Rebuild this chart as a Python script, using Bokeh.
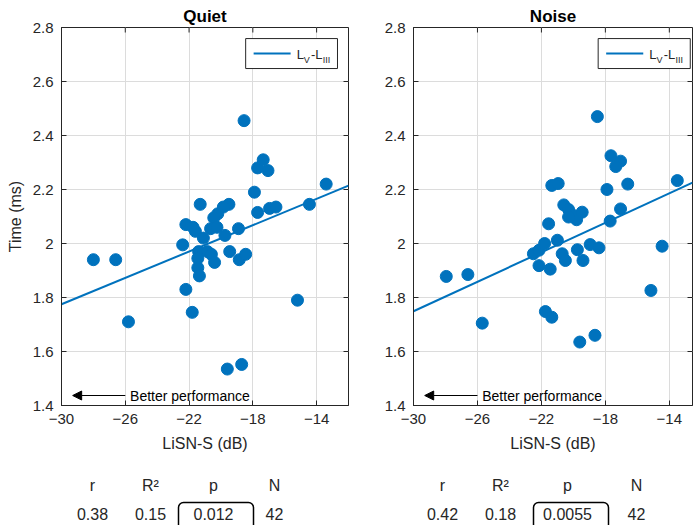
import numpy as np
from bokeh.plotting import figure
from bokeh.models import (Range1d, FixedTicker, BoxAnnotation, Arrow,
                          NormalHead, CustomJSTickFormatter)
from bokeh.layouts import column, row
from bokeh.core.properties import value
from bokeh.embed import file_html
from bokeh.resources import INLINE

# ---------------- data ----------------
quiet_x = [-28.0, -26.6, -25.8, -21.8, -19.6, -18.7, -15.2, -18.55, -17.7, -17.35,
           -17.05, -17.9, -13.4, -14.45, -17.7, -16.95, -16.55, -19.5, -19.85, -20.2,
           -20.45, -21.3, -22.2, -21.75, -21.6, -21.1, -20.65, -20.25, -18.9, -19.75,
           -22.4, -21.4, -20.85, -20.6, -21.45, -20.4, -21.45, -21.35, -19.45, -18.85,
           -18.45, -22.2]
quiet_y = [1.94, 1.94, 1.71, 1.745, 1.535, 1.552, 1.79, 2.455, 2.28, 2.31,
           2.27, 2.19, 2.22, 2.145, 2.115, 2.13, 2.135, 2.145, 2.135, 2.11,
           2.095, 2.145, 2.07, 2.06, 2.045, 2.02, 2.055, 2.06, 2.055, 2.03,
           1.995, 1.97, 1.97, 1.96, 1.945, 1.93, 1.91, 1.88, 1.97, 1.94,
           1.96, 1.83]

noise_x = [-27.95, -26.6, -25.7, -21.75, -21.35, -19.6, -18.65, -15.15, -14.45, -13.5,
           -18.5, -17.65, -17.05, -17.35, -17.9, -16.6, -21.35, -20.95, -17.05, -17.7,
           -21.55, -20.6, -20.3, -20.0, -19.8, -19.45, -20.3, -22.5, -22.15, -21.8,
           -21.0, -22.15, -21.45, -20.7, -20.5, -19.75, -19.4, -18.95, -18.4]
noise_y = [1.878, 1.885, 1.705, 1.748, 1.727, 1.635, 1.66, 1.826, 1.99, 2.233,
           2.47, 2.325, 2.305, 2.285, 2.2, 2.22, 2.215, 2.222, 2.128, 2.083,
           2.073, 2.143, 2.126, 2.104, 2.088, 2.116, 2.098, 1.962, 1.975, 2.0,
           2.012, 1.918, 1.905, 1.962, 1.937, 1.977, 1.937, 1.996, 1.984]

# regression line (intercept at x = -30, slope per dB)
quiet_fit = (1.775, 0.0244)
noise_fit = (1.749, 0.0273)

x_ticks = [-30, -26, -22, -18, -14]
y_ticks = [1.4, 1.6, 1.8, 2.0, 2.2, 2.4, 2.6, 2.8]

stat_headers = ["r", "R\u00b2", "p", "N"]
quiet_stats = ["0.38", "0.15", "0.012", "42"]
noise_stats = ["0.42", "0.18", "0.0055", "42"]

BLUE = "#0072BD"
AX = "#262626"
FONT = "Liberation Sans"
HEIGHT = 460
BT, BB = 27, 55


def style_axis(ax):
    ax.axis_line_color = AX
    ax.major_tick_line_color = AX
    ax.major_tick_in = 5
    ax.major_tick_out = 0
    ax.minor_tick_line_color = None
    ax.major_label_text_color = AX
    ax.major_label_text_font = FONT
    ax.major_label_text_font_size = "15px"
    ax.major_label_standoff = 8
    ax.axis_label_text_font = FONT
    ax.axis_label_text_font_style = "normal"
    ax.axis_label_text_font_size = "16px"
    ax.axis_label_text_color = AX


def make_panel(title, xs, ys, fit, width, bl, br, xmax, ylabel):
    p = figure(width=width, height=HEIGHT, x_range=Range1d(-30, xmax), y_range=Range1d(1.4, 2.8),
               toolbar_location=None, output_backend="svg",
               min_border_left=bl, min_border_right=br, min_border_top=BT, min_border_bottom=BB)
    p.title.text = title
    p.title.align = "center"
    p.title.text_font = FONT
    p.title.text_font_size = "17px"
    p.title.text_font_style = "bold"
    p.title.text_color = "black"
    p.title.standoff = 4
    p.outline_line_color = AX
    p.outline_line_alpha = 1
    p.background_fill_color = "white"
    p.border_fill_color = "white"

    xt = FixedTicker(ticks=x_ticks)
    yt = FixedTicker(ticks=y_ticks)
    p.xaxis.ticker = xt
    p.yaxis.ticker = yt
    p.yaxis.formatter = CustomJSTickFormatter(code="return String(Math.round(tick*10)/10)")
    style_axis(p.xaxis[0])
    style_axis(p.yaxis[0])
    p.xaxis[0].axis_label = "LiSN-S (dB)"
    p.xaxis[0].axis_label_standoff = 8
    if ylabel:
        p.yaxis[0].axis_label = ylabel
        p.yaxis[0].axis_label_standoff = 6

    p.xgrid.ticker = xt
    p.ygrid.ticker = yt
    p.grid.grid_line_color = "#dcdcdc"
    p.grid.grid_line_alpha = 1

    # inward ticks on top and right edges of the box (5 px long)
    fw = width - bl - br
    fh = HEIGHT - BT - BB
    dx = (xmax + 30.0) / fw * 5
    dy = 1.4 / fh * 5
    xtk = np.array(x_ticks, dtype=float)
    ytk = np.array(y_ticks, dtype=float)
    p.segment(x0=xtk, y0=np.full_like(xtk, 2.8), x1=xtk, y1=np.full_like(xtk, 2.8 - dy),
              line_color=AX, line_width=1)
    p.segment(x0=np.full_like(ytk, xmax), y0=ytk, x1=np.full_like(ytk, xmax - dx), y1=ytk,
              line_color=AX, line_width=1)

    # regression line
    lx = np.array([-30.0, xmax])
    ly = fit[0] + fit[1] * (lx + 30.0)
    p.line(lx, ly, line_color=BLUE, line_width=2)

    p.scatter(xs, ys, size=12, fill_color=BLUE, line_color=BLUE)

    # arrow annotation
    p.add_layout(Arrow(end=NormalHead(size=9, fill_color="black", line_color="black"),
                       x_start=-26.0, y_start=1.437, x_end=-29.3, y_end=1.437,
                       line_color="black", line_width=1))
    p.text(x=[-25.7], y=[1.437], text=["Better performance"], text_font=value(FONT),
           text_font_size="14px", text_baseline="middle", text_align="left", text_color="black")

    # legend (box, sample line, label with subscripts)
    p.quad(left=[-18.45], right=[-12.69], bottom=[2.648], top=[2.759],
           fill_color="white", fill_alpha=1, line_color=AX, line_width=1)
    p.line([-17.95, -15.63], [2.704, 2.704], line_color=BLUE, line_width=2)
    p.text(x=[-15.25, -14.35], y=[2.700, 2.700], text=["L", "-L"], text_font=value(FONT),
           text_font_size="13px", text_baseline="middle", text_color=AX)
    p.text(x=[-14.80, -13.62], y=[2.678, 2.678], text=["V", "III"], text_font=value(FONT),
           text_font_size="9px", text_baseline="middle", text_color=AX)
    return p


p1 = make_panel("Quiet", quiet_x, quiet_y, quiet_fit, 350, 61, 2, -12.0, "Time (ms)")
p2 = make_panel("Noise", noise_x, noise_y, noise_fit, 343, 63, 1, -12.55, None)

# stats table
t = figure(width=693, height=65, x_range=Range1d(0, 693), y_range=Range1d(0, 65),
           toolbar_location=None, output_backend="svg", min_border=0,
           x_axis_location=None, y_axis_location=None)
t.grid.visible = False
t.outline_line_color = None
col_left = [92, 150, 213, 274]
col_right = [442, 500, 567, 636]
for cols, stats in ((col_left, quiet_stats), (col_right, noise_stats)):
    t.text(x=cols, y=[40] * 4, text=stat_headers, text_font=value(FONT), text_font_size="16px",
           text_align="center", text_baseline="middle", text_color=AX)
    t.text(x=cols, y=[12] * 4, text=stats, text_font=value(FONT), text_font_size="16px",
           text_align="center", text_baseline="middle", text_color=AX)
for left, right in ((178, 253), (533, 608)):
    t.add_layout(BoxAnnotation(left=left, right=right, top=23, bottom=-4, fill_color=None,
                               line_color="black", line_alpha=1, line_width=1.5,
                               border_radius=5))

layout = column(row(p1, p2), t)
open("out.html", "w").write(file_html(layout, INLINE))
